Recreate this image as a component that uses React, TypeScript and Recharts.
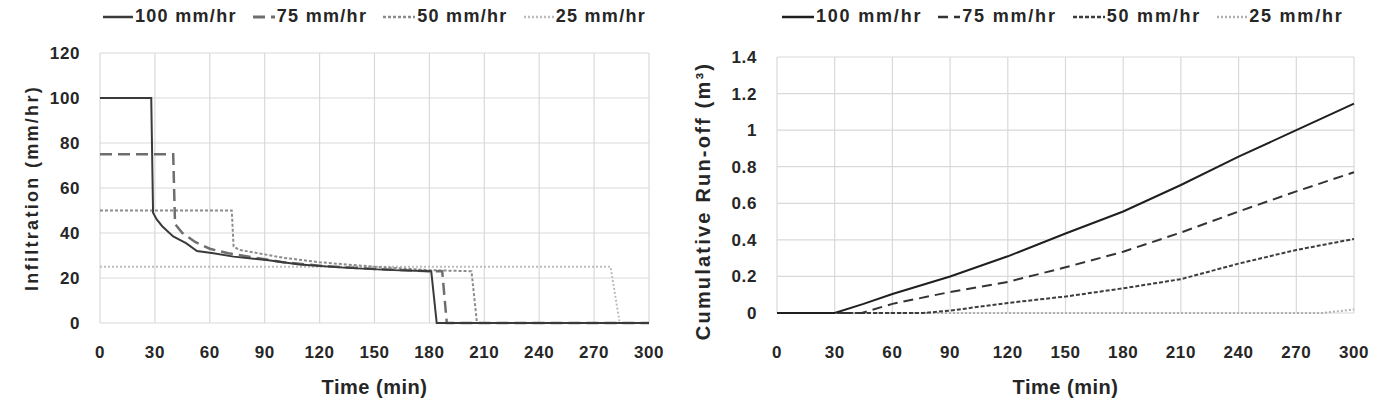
import { LineChart, Line, XAxis, YAxis, CartesianGrid } from "recharts"

type Pair = [number, number]

const timeTicks = [0, 30, 60, 90, 120, 150, 180, 210, 240, 270, 300]
const infilTicks = [0, 20, 40, 60, 80, 100, 120]
const runoffTicks = [0, 0.2, 0.4, 0.6, 0.8, 1, 1.2, 1.4]
const rateLabels = ["100 mm/hr", "75 mm/hr", "50 mm/hr", "25 mm/hr"]

// infiltration rate (mm/hr) against time (min), one list per rainfall intensity
const infil100: Pair[] = [
  [0, 100], [28, 100], [29, 49], [31, 46], [34, 43], [40, 38.5], [47, 35.5], [53, 32],
  [62, 31], [73, 29.5], [91, 28], [109, 26], [135, 24.5], [160, 23.5], [181, 23], [184, 0], [300, 0],
]
const infil75: Pair[] = [
  [0, 75], [40, 75], [41, 44], [45, 40], [52, 36], [60, 33], [70, 31], [85, 29],
  [100, 27], [120, 25.5], [150, 24], [180, 23], [187, 23], [189.5, 0], [300, 0],
]
const infil50: Pair[] = [
  [0, 50], [72, 50], [73, 34], [76, 32.5], [90, 30.5], [100, 29], [120, 27], [150, 25],
  [180, 23.5], [203, 23], [206, 0], [300, 0],
]
const infil25: Pair[] = [[0, 25], [279, 25], [284, 0], [300, 0]]

// cumulative run-off (m3) against time (min)
const runoff100: Pair[] = [
  [0, 0], [30, 0], [45, 0.05], [60, 0.104], [90, 0.2], [120, 0.31], [150, 0.435],
  [180, 0.555], [210, 0.7], [240, 0.855], [270, 1.0], [300, 1.145],
]
const runoff75: Pair[] = [
  [0, 0], [44, 0], [60, 0.05], [90, 0.115], [120, 0.17], [150, 0.25], [180, 0.335],
  [210, 0.44], [240, 0.555], [270, 0.665], [300, 0.77],
]
const runoff50: Pair[] = [
  [0, 0], [76, 0], [90, 0.013], [120, 0.055], [150, 0.09], [180, 0.135], [210, 0.185],
  [240, 0.27], [270, 0.345], [300, 0.405],
]
const runoff25: Pair[] = [[0, 0], [284, 0], [300, 0.02]]

const toPts = (a: Pair[]) => a.map(([t, v]) => ({ t, v }))

const FONT = "'Liberation Sans', Arial, sans-serif"
const TEXT = "#262626"
const GRID = "#d9d9d9"

interface SeriesStyle {
  color: string
  dash?: string
  width: number
}

const leftStyles: SeriesStyle[] = [
  { color: "#3a3a3a", width: 2 },
  { color: "#6e6e6e", dash: "12 6", width: 2.5 },
  { color: "#8c8c8c", dash: "3 2", width: 2 },
  { color: "#bdbdbd", dash: "2 2", width: 2 },
]
const rightStyles: SeriesStyle[] = [
  { color: "#1f1f1f", width: 2 },
  { color: "#333333", dash: "10 6", width: 2 },
  { color: "#3d3d3d", dash: "4 2", width: 2 },
  { color: "#b0b0b0", dash: "2 2", width: 2 },
]

const leftSeries = [infil100, infil75, infil50, infil25]
const rightSeries = [runoff100, runoff75, runoff50, runoff25]

const tickStyle = { fontFamily: FONT, fontSize: 17, fontWeight: 700, fill: TEXT, letterSpacing: 0.6 }

function Legend({ styles, x, gap, textGap, fontSize, spacing, symbolWidth }: {
  styles: SeriesStyle[]; x: number; gap: number; textGap: number; fontSize: number; spacing: number; symbolWidth: number[]
}) {
  return (
    <div style={{ position: "absolute", left: x, top: 6, display: "flex", alignItems: "center", gap }}>
      {rateLabels.map((label, i) => (
        <div key={label} style={{ display: "flex", alignItems: "center", gap: textGap }}>
          <svg width={symbolWidth[i]} height={12}>
            <line x1={0} x2={symbolWidth[i]} y1={6} y2={6} stroke={styles[i].color} strokeWidth={styles[i].width + 0.5} strokeDasharray={styles[i].dash} />
          </svg>
          <span style={{ fontFamily: FONT, fontSize, fontWeight: 700, color: TEXT, letterSpacing: spacing, whiteSpace: "nowrap" }}>{label}</span>
        </div>
      ))}
    </div>
  )
}

function YTitle({ viewBox, value, cx, cy, size, spacing }: any) {
  const y = viewBox.y + viewBox.height / 2 + cy
  return (
    <text x={cx} y={y} transform={`rotate(-90, ${cx}, ${y})`} textAnchor="middle" dominantBaseline="central"
      style={{ fontFamily: FONT, fontSize: size, fontWeight: 700, fill: TEXT, letterSpacing: spacing }}>
      {value}
    </text>
  )
}

function XTitle({ viewBox, value, dy }: any) {
  return (
    <text x={viewBox.x + viewBox.width / 2} y={viewBox.y + dy} textAnchor="middle"
      style={{ fontFamily: FONT, fontSize: 20, fontWeight: 700, fill: TEXT, letterSpacing: 0.5 }}>
      {value}
    </text>
  )
}

export default function App() {
  return (
    <div style={{ position: "fixed", left: 0, top: 0, width: 1379, height: 399, background: "#fff", overflow: "hidden" }}>
      <Legend styles={leftStyles} x={103} gap={16} textGap={2} fontSize={18} spacing={1.3} symbolWidth={[30, 22, 32, 30]} />
      <Legend styles={rightStyles} x={782} gap={16} textGap={2} fontSize={18} spacing={1.8} symbolWidth={[32, 22, 32, 30]} />

      <div style={{ position: "absolute", left: 0, top: 0 }}>
        <LineChart width={690} height={399} margin={{ top: 53, right: 41, bottom: 0, left: 0 }}>
          <CartesianGrid stroke={GRID} strokeWidth={1.2} />
          <XAxis type="number" dataKey="t" domain={[0, 300]} ticks={timeTicks} axisLine={false} tickLine={false}
            tickSize={0} tickMargin={23} height={76} tick={tickStyle} interval={0}
            label={<XTitle value="Time (min)" dy={71} />} />
          <YAxis type="number" domain={[0, 120]} ticks={infilTicks} axisLine={false} tickLine={false}
            tickSize={0} tickMargin={20} width={100} tick={tickStyle} interval={0}
            label={<YTitle value="Infiltration (mm/hr)" cx={32} cy={0} size={18} spacing={2.3} />} />
          {[3, 2, 1, 0].map(i => (
            <Line key={i} data={toPts(leftSeries[i])} dataKey="v" type="linear" dot={false} activeDot={false}
              stroke={leftStyles[i].color} strokeWidth={leftStyles[i].width} strokeDasharray={leftStyles[i].dash}
              isAnimationActive={false} />
          ))}
        </LineChart>
      </div>

      <div style={{ position: "absolute", left: 690, top: 0 }}>
        <LineChart width={689} height={399} margin={{ top: 57, right: 25, bottom: 0, left: 0 }}>
          <CartesianGrid stroke={GRID} strokeWidth={1.2} />
          <XAxis type="number" dataKey="t" domain={[0, 300]} ticks={timeTicks} axisLine={false} tickLine={false}
            tickSize={0} tickMargin={33} height={86} tick={tickStyle} interval={0}
            label={<XTitle value="Time (min)" dy={81} />} />
          <YAxis type="number" domain={[0, 1.4]} ticks={runoffTicks} axisLine={false} tickLine={false}
            tickSize={0} tickMargin={20} width={87} tick={tickStyle} interval={0}
            label={<YTitle value="Cumulative Run-off (m³)" cx={13} cy={16} size={20} spacing={2.2} />} />
          {[3, 2, 1, 0].map(i => (
            <Line key={i} data={toPts(rightSeries[i])} dataKey="v" type="linear" dot={false} activeDot={false}
              stroke={rightStyles[i].color} strokeWidth={rightStyles[i].width} strokeDasharray={rightStyles[i].dash}
              isAnimationActive={false} />
          ))}
        </LineChart>
      </div>
    </div>
  )
}
